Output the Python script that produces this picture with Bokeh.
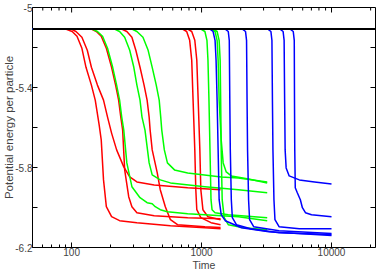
import math
from bokeh.plotting import figure
from bokeh.models import FixedTicker, Range1d, CustomJSTickFormatter
from bokeh.embed import file_html
from bokeh.resources import INLINE

# ---------------- data ----------------
x_major_ticks = [100, 1000, 10000]
x_minor_ticks = [50, 60, 70, 80, 90, 200, 300, 400, 500, 600, 700, 800, 900,
                 2000, 3000, 4000, 5000, 6000, 7000, 8000, 9000, 20000]
y_major_ticks = [-5.0, -5.4, -5.8, -6.2]
y_minor_ticks = [-5.2, -5.6, -6.0]
x_limits = [50, 21800]
y_limits = [-6.2, -5.0]

red_1_time = [50, 90, 101, 110, 120, 129, 142, 152, 163, 169, 176, 185, 203, 234, 318, 576, 1060, 1400]
red_1_energy = [-5.108, -5.108, -5.120, -5.144, -5.204, -5.299, -5.388, -5.463, -5.588, -5.662, -5.862,
                -5.996, -6.046, -6.066, -6.076, -6.091, -6.101, -6.106]
red_2_time = [50, 99, 108, 120, 132, 142, 158, 176, 189, 203, 222, 252, 280, 318, 432, 782, 1400]
red_2_energy = [-5.108, -5.108, -5.120, -5.149, -5.214, -5.299, -5.388, -5.463, -5.548, -5.628, -5.712,
                -5.797, -5.847, -5.872, -5.887, -5.901, -5.911]
red_3_time = [50, 142, 155, 169, 185, 203, 218, 230, 239, 247, 256, 275, 291, 318, 432, 782, 1400]
red_3_energy = [-5.108, -5.108, -5.120, -5.144, -5.204, -5.299, -5.388, -5.463, -5.548, -5.613, -5.812,
                -5.946, -5.996, -6.026, -6.041, -6.051, -6.056]
red_4_time = [50, 243, 266, 291, 312, 336, 361, 381, 395, 402, 417, 456, 481, 526, 576, 653, 1060, 1400]
red_4_energy = [-5.108, -5.108, -5.120, -5.149, -5.214, -5.299, -5.388, -5.463, -5.548, -5.613, -5.712,
                -5.827, -5.911, -5.996, -6.061, -6.086, -6.096, -6.100]
red_5_time = [50, 714, 768, 810, 840, 855, 871, 887, 903, 919, 987, 1182, 1400]
red_5_energy = [-5.108, -5.108, -5.120, -5.164, -5.264, -5.413, -5.563, -5.712, -5.911, -6.011, -6.051,
                -6.076, -6.086]
red_6_time = [50, 782, 840, 887, 919, 936, 953, 970, 987, 1024, 1120, 1400]
red_6_energy = [-5.108, -5.108, -5.120, -5.164, -5.264, -5.413, -5.563, -5.712, -5.911, -6.011, -6.046, -6.061]

green_1_time = [50, 144, 158, 173, 189, 207, 222, 234, 243, 252, 266, 291, 336, 381, 417, 440, 481, 546,
                782, 1920, 3200]
green_1_energy = [-5.108, -5.108, -5.120, -5.144, -5.204, -5.299, -5.388, -5.463, -5.548, -5.613, -5.777,
                  -5.896, -5.951, -5.976, -5.981, -5.996, -6.011, -6.021, -6.031, -6.046, -6.066]
green_2_time = [50, 214, 234, 256, 280, 301, 318, 336, 348, 367, 395, 417, 481, 576, 1060, 1920, 3200]
green_2_energy = [-5.108, -5.108, -5.120, -5.149, -5.214, -5.299, -5.388, -5.463, -5.548, -5.613, -5.777,
                  -5.837, -5.862, -5.877, -5.896, -5.911, -5.926]
green_3_time = [50, 291, 318, 354, 388, 417, 448, 472, 485, 494, 517, 546, 619, 782, 1416, 1920, 3200]
green_3_energy = [-5.108, -5.108, -5.120, -5.149, -5.214, -5.299, -5.388, -5.463, -5.548, -5.613, -5.712,
                  -5.777, -5.812, -5.827, -5.847, -5.852, -5.872]
green_4_time = [50, 987, 1061, 1100, 1120, 1140, 1161, 1182, 1204, 1270, 1605, 3200]
green_4_energy = [-5.108, -5.108, -5.120, -5.164, -5.264, -5.463, -5.712, -5.961, -6.011, -6.026, -6.036, -6.051]
green_5_time = [50, 1182, 1270, 1317, 1341, 1365, 1416, 1467, 1548, 1694, 2300, 3200]
green_5_energy = [-5.108, -5.108, -5.120, -5.164, -5.264, -5.463, -5.662, -5.777, -5.822, -5.842, -5.857, -5.877]
green_6_time = [50, 1226, 1317, 1365, 1390, 1403, 1416, 1441, 1494, 1605, 2102, 3200]
green_6_energy = [-5.108, -5.108, -5.120, -5.164, -5.264, -5.463, -5.712, -5.961, -6.051, -6.086, -6.101, -6.111]

blue_1_time = [50, 1161, 1226, 1270, 1293, 1317, 1341, 1365, 1416, 1521, 2028, 3296, 10000]
blue_1_energy = [-5.108, -5.108, -5.120, -5.164, -5.264, -5.463, -5.712, -5.961, -6.036, -6.066, -6.101,
                 -6.121, -6.140]
blue_2_time = [50, 1521, 1605, 1634, 1649, 1664, 1694, 1725, 1854, 2384, 3947, 10000]
blue_2_energy = [-5.108, -5.108, -5.120, -5.164, -5.463, -5.712, -5.961, -6.051, -6.086, -6.106, -6.126, -6.135]
blue_3_time = [50, 2064, 2179, 2219, 2239, 2259, 2300, 2342, 2517, 3947, 10000]
blue_3_energy = [-5.108, -5.108, -5.120, -5.164, -5.463, -5.712, -5.961, -6.061, -6.096, -6.116, -6.130]
blue_4_time = [50, 3237, 3417, 3479, 3510, 3542, 3606, 3671, 3947, 5654, 10000]
blue_4_energy = [-5.108, -5.108, -5.120, -5.164, -5.463, -5.712, -5.961, -6.061, -6.096, -6.106, -6.106]
blue_5_time = [50, 4018, 4241, 4318, 4357, 4396, 4476, 4724, 5654, 7403, 10000]
blue_5_energy = [-5.108, -5.108, -5.120, -5.164, -5.463, -5.712, -5.802, -5.842, -5.862, -5.872, -5.882]
blue_6_time = [50, 4809, 5076, 5168, 5190, 5214, 5261, 5454, 5757, 5969, 6299, 7019, 10000]
blue_6_energy = [-5.108, -5.108, -5.120, -5.164, -5.463, -5.712, -5.901, -5.926, -5.961, -6.001, -6.026,
                 -6.036, -6.046]

black_time = [50, 21800]
black_energy = [-5.108, -5.108]

# ---------------- figure ----------------
FONT = "Liberation Sans"

p = figure(width=389, height=273, x_axis_type="log",
           x_range=Range1d(x_limits[0], x_limits[1]), y_range=Range1d(y_limits[0], y_limits[1]),
           output_backend="svg", toolbar_location=None,
           min_border_left=0, min_border_right=14, min_border_top=7, min_border_bottom=0)

p.background_fill_color = "white"
p.border_fill_color = "white"
p.outline_line_color = "black"
p.outline_line_width = 1
p.xgrid.visible = False
p.ygrid.visible = False

xa = p.xaxis[0]
xa.ticker = FixedTicker(ticks=x_major_ticks, minor_ticks=x_minor_ticks)
xa.formatter = CustomJSTickFormatter(code="return tick.toFixed(0);")
xa.axis_line_color = None
xa.major_tick_in = 5
xa.major_tick_out = 0
xa.minor_tick_in = 3
xa.minor_tick_out = 0
xa.axis_label = "Time"
xa.axis_label_text_font = FONT
xa.axis_label_text_font_style = "normal"
xa.axis_label_text_font_size = "10.5px"
xa.axis_label_standoff = 0
xa.major_label_text_font = FONT
xa.major_label_text_font_size = "10px"
xa.major_label_standoff = 0

ya = p.yaxis[0]
ya.ticker = FixedTicker(ticks=y_major_ticks, minor_ticks=y_minor_ticks)
ya.formatter = CustomJSTickFormatter(code="return String(Math.round(tick*10)/10);")
ya.axis_line_color = None
ya.major_tick_in = 5
ya.major_tick_out = 0
ya.minor_tick_in = 5
ya.minor_tick_out = 0
ya.axis_label = "Potential energy per particle"
ya.axis_label_text_font = FONT
ya.axis_label_text_font_style = "normal"
ya.axis_label_text_font_size = "11.5px"
ya.axis_label_standoff = -3
ya.major_label_text_font = FONT
ya.major_label_text_font_size = "10px"
ya.major_label_standoff = 0

# mirrored ticks on the top and right borders (gnuplot style)
p.ray(x=x_major_ticks, y=[y_limits[1]] * len(x_major_ticks), length=5, length_units="screen",
      angle=-math.pi / 2, line_color="black", line_width=1)
p.ray(x=x_minor_ticks, y=[y_limits[1]] * len(x_minor_ticks), length=3, length_units="screen",
      angle=-math.pi / 2, line_color="black", line_width=1)
right_ticks = y_major_ticks + y_minor_ticks
p.ray(x=[x_limits[1]] * len(right_ticks), y=right_ticks, length=5, length_units="screen",
      angle=math.pi, line_color="black", line_width=1)

curves = [
    (red_1_time, red_1_energy, "#ff0000"),
    (red_2_time, red_2_energy, "#ff0000"),
    (red_3_time, red_3_energy, "#ff0000"),
    (red_4_time, red_4_energy, "#ff0000"),
    (red_5_time, red_5_energy, "#ff0000"),
    (red_6_time, red_6_energy, "#ff0000"),
    (green_1_time, green_1_energy, "#00ff00"),
    (green_2_time, green_2_energy, "#00ff00"),
    (green_3_time, green_3_energy, "#00ff00"),
    (green_4_time, green_4_energy, "#00ff00"),
    (green_5_time, green_5_energy, "#00ff00"),
    (green_6_time, green_6_energy, "#00ff00"),
    (blue_1_time, blue_1_energy, "#0000ff"),
    (blue_2_time, blue_2_energy, "#0000ff"),
    (blue_3_time, blue_3_energy, "#0000ff"),
    (blue_4_time, blue_4_energy, "#0000ff"),
    (blue_5_time, blue_5_energy, "#0000ff"),
    (blue_6_time, blue_6_energy, "#0000ff"),
]
for t, e, c in curves:
    p.line(t, e, line_color=c, line_width=1.5, line_join="round")

p.line(black_time, black_energy, line_color="black", line_width=2)

open("out.html", "w").write(file_html(p, INLINE))
